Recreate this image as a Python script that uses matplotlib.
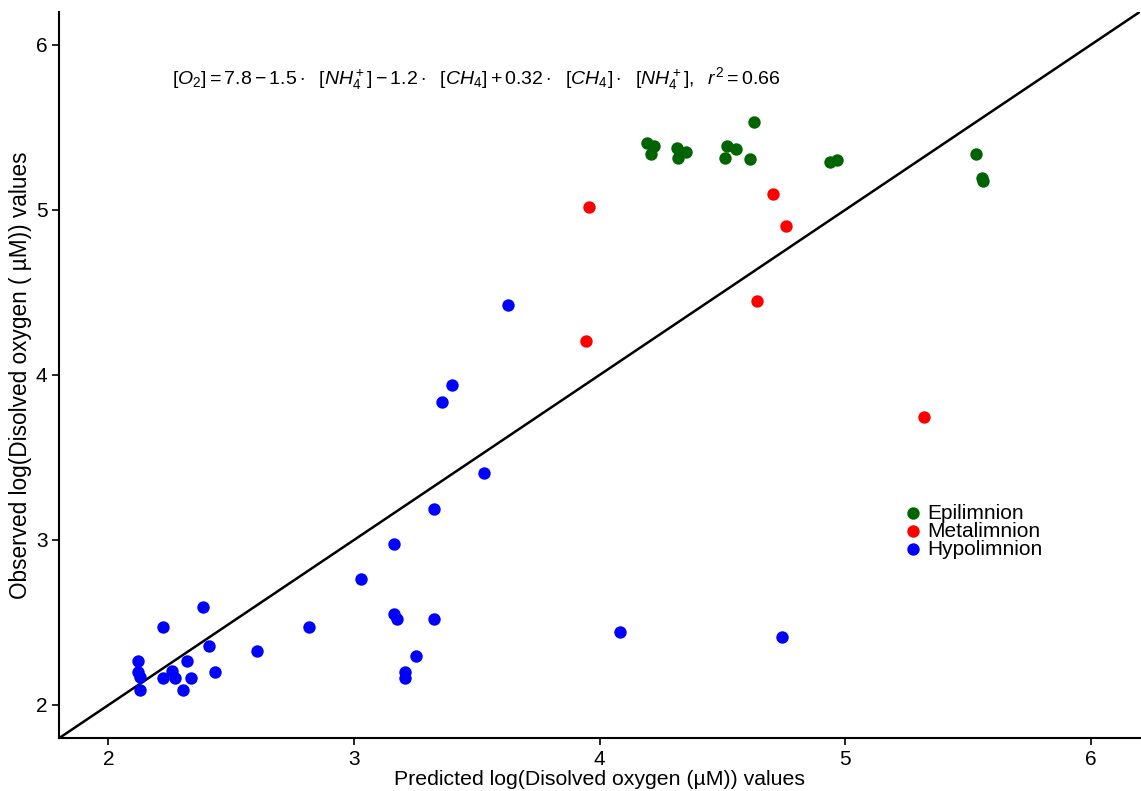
import matplotlib
matplotlib.use('Agg')
import matplotlib.pyplot as plt

plt.rcParams['font.family'] = ['Liberation Sans', 'DejaVu Sans']
plt.rcParams['mathtext.fontset'] = 'custom'
plt.rcParams['mathtext.rm'] = 'Liberation Sans'
plt.rcParams['mathtext.it'] = 'Liberation Sans:italic'

# Epilimnion
epi_pred = [4.195, 4.223, 4.211, 4.315, 4.351, 4.319, 4.518, 4.555, 4.512, 4.612,
            4.629, 4.940, 4.968, 5.533, 5.557, 5.561]
epi_obs = [5.408, 5.386, 5.338, 5.378, 5.352, 5.317, 5.386, 5.372, 5.317, 5.307,
           5.531, 5.293, 5.305, 5.338, 5.194, 5.176]

# Metalimnion
meta_pred = [3.955, 3.944, 4.707, 4.758, 4.642, 5.321]
meta_obs = [5.016, 4.206, 5.099, 4.905, 4.447, 3.747]

# Hypolimnion
hypo_pred = [2.121, 2.122, 2.127, 2.127, 2.223, 2.224, 2.260, 2.270, 2.302, 2.320,
             2.338, 2.387, 2.408, 2.434, 2.605, 2.817, 3.028, 3.163, 3.163, 3.175,
             3.209, 3.209, 3.254, 3.324, 3.324, 3.358, 3.400, 3.529, 3.628, 4.084,
             4.741]
hypo_obs = [2.267, 2.202, 2.168, 2.091, 2.471, 2.164, 2.204, 2.164, 2.091, 2.267,
            2.164, 2.594, 2.358, 2.200, 2.327, 2.471, 2.764, 2.978, 2.550, 2.519,
            2.202, 2.164, 2.297, 3.190, 2.521, 3.836, 3.941, 3.408, 4.424, 2.442,
            2.412]

ticks = [2, 3, 4, 5, 6]
lims = [1.8, 6.2]

fig = plt.figure(figsize=(11.41, 7.91), dpi=100)
ax = fig.add_axes([0.052, 0.067, 0.947, 0.918])

# 1:1 line
ax.plot(lims, lims, color='black', lw=1.8, zorder=1)

ms = 80
ax.scatter(epi_pred, epi_obs, s=ms, color='#006400', label='Epilimnion', zorder=3, linewidths=0)
ax.scatter(meta_pred, meta_obs, s=ms, color='red', label='Metalimnion', zorder=3, linewidths=0)
ax.scatter(hypo_pred, hypo_obs, s=ms, color='blue', label='Hypolimnion', zorder=3, linewidths=0)

ax.set_xlim(lims)
ax.set_ylim(lims)
ax.set_xticks(ticks)
ax.set_yticks(ticks)
ax.tick_params(labelsize=15, length=5, width=1.2, color='black')
for side in ['top', 'right']:
    ax.spines[side].set_visible(False)
for side in ['left', 'bottom']:
    ax.spines[side].set_linewidth(1.5)

ax.set_xlabel('Predicted log(Disolved oxygen (\u00b5M)) values', fontsize=15.3, labelpad=1)
ax.set_ylabel('Observed log(Disolved oxygen ( \u00b5M)) values', fontsize=16.3, labelpad=3)

eq = (r'$[O_2] = 7.8 - 1.5\cdot\ \ [NH_4^+] - 1.2\cdot\ \ [CH_4] + 0.32\cdot\ \ [CH_4]\cdot\ \ '
      r'[NH_4^+],\ \ r^2 = 0.66$')
ax.text(2.26, 5.794, eq, fontsize=14, ha='left', va='center')

ax.legend(loc='upper left', bbox_to_anchor=(0.770, 0.337), frameon=False, fontsize=15,
          handletextpad=0.1, labelspacing=-0.05, borderpad=0, handlelength=1.1,
          markerscale=1.0)

plt.savefig('out.png', dpi=100, facecolor='white')
